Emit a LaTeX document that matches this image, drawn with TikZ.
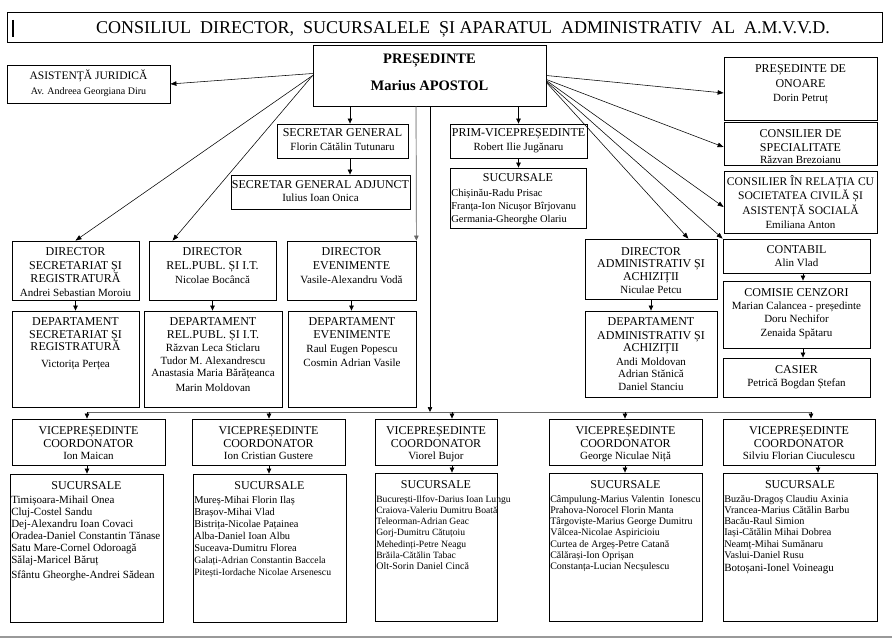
\documentclass[tikz,border=0pt]{standalone}
\usepackage{fontspec}
\setmainfont{Liberation Serif}
\usetikzlibrary{arrows.meta,fit,calc}
\newcommand\hd{\fontsize{12}{13}\selectfont}
\newcommand\nm{\fontsize{11}{13}\selectfont}
\newcommand\st{\rule{0pt}{11pt}}
\newcommand\lt{\rule{0pt}{9pt}}
\definecolor{bus}{gray}{0.4}
\definecolor{rule}{gray}{0.6}
\begin{document}
\begin{tikzpicture}[x=1pt,y=-1pt,
  bx/.style={draw, line width=0.8pt, inner sep=0pt},
  tx/.style={anchor=north, align=center, inner sep=0pt, font=\hd},
  lst/.style={anchor=north west, align=left, inner sep=0pt},
  arr/.style={line width=0.7pt, -{Triangle[length=5pt,width=4.5pt]}},
  diag/.style={line width=0.55pt, -{Triangle[length=6pt,width=4.5pt]}}]
\useasboundingbox (0,0) rectangle (892,639);
\fill[white] (0,0) rectangle (892,639);

% ---------- title ----------
\node[bx, fit={(7,12) (882,42)}] (title) {};
\node[inner sep=0pt, anchor=base, font=\fontsize{18}{20}\selectfont] (title-t) at (463,33.5)
  {CONSILIUL\ \ DIRECTOR,\ \ SUCURSALELE\ \ ȘI APARATUL\ \ ADMINISTRATIV\ \ AL\ \ A.M.V.V.D.};
\draw[line width=1.5pt] (13,20) -- (13,37);

% ---------- boxes ----------
\node[bx, fit={(313,45) (546,106)}] (pres) {};
\node[bx, fit={(7,65) (170,103)}] (asist) {};
\node[bx, fit={(724,57) (877,120)}] (onoare) {};
\node[bx, fit={(277,124) (408,158)}] (sg) {};
\node[bx, fit={(231,175) (410,209)}] (sga) {};
\node[bx, fit={(450,124) (587,158)}] (pvp) {};
\node[bx, fit={(450,168) (586,228)}] (psuc) {};
\node[bx, fit={(724,122) (877,165)}] (cspec) {};
\node[bx, fit={(724,171) (877,233)}] (crel) {};
\node[bx, fit={(12,241) (139,300)}] (dsec) {};
\node[bx, fit={(149,241) (276,300)}] (drel) {};
\node[bx, fit={(287,241) (416,300)}] (dev) {};
\node[bx, fit={(585,239) (717,299)}] (dadm) {};
\node[bx, fit={(723,239) (870,273)}] (contab) {};
\node[bx, fit={(12,311) (139,407)}] (depsec) {};
\node[bx, fit={(144,311) (282,407)}] (deprel) {};
\node[bx, fit={(288,311) (416,407)}] (depev) {};
\node[bx, fit={(585,311) (717,397)}] (depadm) {};
\node[bx, fit={(723,281) (870,348)}] (cenz) {};
\node[bx, fit={(723,358) (870,397)}] (casier) {};
\node[bx, fit={(12,419) (165,465)}] (vp1) {};
\node[bx, fit={(192,419) (345,465)}] (vp2) {};
\node[bx, fit={(375,419) (497,465)}] (vp3) {};
\node[bx, fit={(549,419) (702,465)}] (vp4) {};
\node[bx, fit={(723,419) (875,465)}] (vp5) {};
\node[bx, fit={(10,474) (163,622)}] (s1) {};
\node[bx, fit={(193,474) (346,622)}] (s2) {};
\node[bx, fit={(375,473) (497,621)}] (s3) {};
\node[bx, fit={(549,473) (702,621)}] (s4) {};
\node[bx, fit={(723,473) (877,621)}] (s5) {};

% ---------- texts ----------
\node[tx, font=\fontsize{14.5}{27}\selectfont\bfseries] (pres-t) at ($(pres.north)+(0,7.5)$) {\st PREȘEDINTE\\Marius APOSTOL};
\node[tx, font=\fontsize{11.5}{13}\selectfont] (asist-t) at ($(asist.north)+(0,4)$) {\st ASISTENȚĂ JURIDICĂ\\[2pt]\fontsize{10}{12}\selectfont Av. Andreea Georgiana Diru};
\node[tx] (onoare-t) at ($(onoare.north)+(0,5)$) {\st PREȘEDINTE DE\\[2pt]ONOARE\\[1pt]\nm Dorin Petruț};
\node[tx] (sg-t) at ($(sg.north)+(0,2)$) {\st SECRETAR GENERAL\\[1pt]\nm Florin Cătălin Tutunaru};
\node[tx] (sga-t) at ($(sga.north)+(0,3)$) {\st SECRETAR GENERAL ADJUNCT\\\nm Iulius Ioan Onica};
\node[tx] (pvp-t) at ($(pvp.north)+(0,2)$) {\st PRIM-VICEPREȘEDINTE\\[1pt]\nm Robert Ilie Jugănaru};
\node[tx] (psuc-t) at ($(psuc.north)+(0,3)$) {\st SUCURSALE};
\node[lst, font=\fontsize{10.5}{13}\selectfont] (psuc-l) at ($(psuc.north west)+(1.5,19.5)$) {\lt Chișinău-Radu Prisac\\Franța-Ion Nicușor Bîrjovanu\\Germania-Gheorghe Olariu};
\node[tx] (cspec-t) at ($(cspec.north)+(0,5)$) {\st CONSILIER DE\\[1pt]SPECIALITATE\\[-1pt]\nm Răzvan Brezoianu};
\node[tx, font=\fontsize{11.6}{13}\selectfont] (crel-t) at ($(crel.north)+(0,4)$) {\st CONSILIER ÎN RELAȚIA CU\\[1pt]SOCIETATEA CIVILĂ ȘI\\[2pt]ASISTENȚĂ SOCIALĂ\\[1pt]\nm Emiliana Anton};
\node[tx] (dsec-t) at ($(dsec.north)+(0,4)$) {\st DIRECTOR\\[1pt]SECRETARIAT ȘI\\REGISTRATURĂ\\[1pt]\nm Andrei Sebastian Moroiu};
\node[tx] (drel-t) at ($(drel.north)+(0,4)$) {\st DIRECTOR\\[1pt]REL.PUBL. ȘI I.T.\\[1pt]\nm Nicolae Bocâncă};
\node[tx] (dev-t) at ($(dev.north)+(0,4)$) {\st DIRECTOR\\[1pt]EVENIMENTE\\[1pt]\nm Vasile-Alexandru Vodă};
\node[tx] (dadm-t) at ($(dadm.north)+(0,6)$) {\st DIRECTOR\\[-1pt]ADMINISTRATIV ȘI\\ACHIZIȚII\\\nm Niculae Petcu};
\node[tx] (contab-t) at ($(contab.north)+(0,4)$) {\st CONTABIL\\\nm Alin Vlad};
\node[tx] (depsec-t) at ($(depsec.north)+(0,4)$) {\st DEPARTAMENT\\SECRETARIAT ȘI\\[-1pt]REGISTRATURĂ\\[4pt]\nm Victorița Perțea};
\node[tx] (deprel-t) at ($(deprel.north)+(0,4)$) {\st DEPARTAMENT\\REL.PUBL. ȘI I.T.\\\nm Răzvan Leca Sticlaru\\[-0.5pt]\nm Tudor M. Alexandrescu\\[-0.5pt]\nm Anastasia Maria Bărățeanca\\[2pt]\nm Marin Moldovan};
\node[tx] (depev-t) at ($(depev.north)+(0,4)$) {\st DEPARTAMENT\\EVENIMENTE\\[1pt]\nm Raul Eugen Popescu\\[1pt]\nm Cosmin Adrian Vasile};
\node[tx] (depadm-t) at ($(depadm.north)+(0,4)$) {\st DEPARTAMENT\\[1pt]ADMINISTRATIV ȘI\\[-1pt]ACHIZIȚII\\[1pt]\nm Andi Moldovan\\[-1pt]\nm Adrian Stănică\\\nm Daniel Stanciu};
\node[tx] (cenz-t) at ($(cenz.north)+(0,5)$) {\st COMISIE CENZORI\\\nm Marian Calancea - președinte\\\nm Doru Nechifor\\[1pt]\nm Zenaida Spătaru};
\node[tx] (casier-t) at ($(casier.north)+(0,5)$) {\st CASIER\\\nm Petrică Bogdan Ștefan};

\node[tx] (vp1-t) at ($(vp1.north)+(0,5)$) {\st VICEPREȘEDINTE\\COORDONATOR\\[-1pt]\nm Ion Maican};
\node[tx] (vp2-t) at ($(vp2.north)+(0,5)$) {\st VICEPREȘEDINTE\\COORDONATOR\\[-1pt]\nm Ion Cristian Gustere};
\node[tx] (vp3-t) at ($(vp3.north)+(0,5)$) {\st VICEPREȘEDINTE\\COORDONATOR\\[-1pt]\nm Viorel Bujor};
\node[tx] (vp4-t) at ($(vp4.north)+(0,5)$) {\st VICEPREȘEDINTE\\COORDONATOR\\[-1pt]\nm George Niculae Niță};
\node[tx] (vp5-t) at ($(vp5.north)+(0,5)$) {\st VICEPREȘEDINTE\\COORDONATOR\\[-1pt]\nm Silviu Florian Ciuculescu};

\node[tx] (s1-t) at ($(s1.north)+(0,5)$) {\st SUCURSALE};
\node[tx] (s2-t) at ($(s2.north)+(0,5)$) {\st SUCURSALE};
\node[tx] (s3-t) at ($(s3.north)+(0,5)$) {\st SUCURSALE};
\node[tx] (s4-t) at ($(s4.north)+(0,5)$) {\st SUCURSALE};
\node[tx] (s5-t) at ($(s5.north)+(0,5)$) {\st SUCURSALE};
\node[lst, font=\fontsize{11}{12}\selectfont] (s1-l) at ($(s1.north west)+(1.5,20.5)$) {\lt Timișoara-Mihail Onea\\Cluj-Costel Sandu\\Dej-Alexandru Ioan Covaci\\Oradea-Daniel Constantin Tănase\\Satu Mare-Cornel Odoroagă\\Sălaj-Maricel Băruț\\[3pt]Sfântu Gheorghe-Andrei Sădean};
\node[lst, font=\fontsize{10.4}{12}\selectfont] (s2-l) at ($(s2.north west)+(1.5,20.5)$) {\lt Mureș-Mihai Florin Ilaș\\Brașov-Mihai Vlad\\Bistrița-Nicolae Pațainea\\Alba-Daniel Ioan Albu\\Suceava-Dumitru Florea\\\fontsize{9.7}{12}\selectfont Galați-Adrian Constantin Baccela\\\fontsize{9.7}{12}\selectfont Pitești-Iordache Nicolae Arsenescu};
\node[lst, font=\fontsize{9.6}{11.2}\selectfont] (s3-l) at ($(s3.north west)+(1.5,20.5)$) {\lt București-Ilfov-Darius Ioan Lungu\\Craiova-Valeriu Dumitru Boată\\Teleorman-Adrian Geac\\Gorj-Dumitru Cătuțoiu\\Mehedinți-Petre Neagu\\Brăila-Cătălin Tabac\\\fontsize{10}{11.2}\selectfont Olt-Sorin Daniel Cincă};
\node[lst, font=\fontsize{10}{11.2}\selectfont] (s4-l) at ($(s4.north west)+(1.5,20.5)$) {\lt Câmpulung-Marius Valentin\ \ Ionescu\\Prahova-Norocel Florin Manta\\Târgoviște-Marius George Dumitru\\Vâlcea-Nicolae Aspiricioiu\\Curtea de Argeș-Petre Catană\\Călărași-Ion Oprișan\\Constanța-Lucian Necșulescu};
\node[lst, font=\fontsize{10.2}{11.2}\selectfont] (s5-l) at ($(s5.north west)+(1.5,20.5)$) {\lt Buzău-Dragoș Claudiu Axinia\\Vrancea-Marius Cătălin Barbu\\Bacău-Raul Simion\\Iași-Cătălin Mihai Dobrea\\Neamț-Mihai Sumănaru\\Vaslui-Daniel Rusu\\[2pt]\fontsize{11}{11.2}\selectfont Botoșani-Ionel Voineagu};

% ---------- helper coordinates ----------
\coordinate (xsg) at (350,0);
\coordinate (xev) at (416,0);
\coordinate (bm) at (430,412);
\coordinate (b1) at (87,412);
\coordinate (b2) at (269,412);
\coordinate (b3) at (452,412);
\coordinate (b4) at (625,412);
\coordinate (b5) at (811,412);
\coordinate (v5) at (818,0);
\coordinate (xcz) at (803,0);

% ---------- connectors ----------
\draw[diag] ([yshift=2pt]pres.west) -- (asist.east);
\draw[diag] (pres.west) -- (dsec.north);
\draw[diag] (pres.west) -- ([xshift=24pt]drel.north west);
\draw[diag] (pres.east) -- ([yshift=-4.5pt]onoare.west);
\draw[diag] ([yshift=-4pt]pres.east) -- ([yshift=-3.5pt]cspec.west);
\draw[diag] ([yshift=-5pt]pres.east) -- ([yshift=-5pt]crel.west);
\draw[diag] ([yshift=-6pt]pres.east) -- (contab.north west);
\draw[diag] ([yshift=-7pt]pres.east) -- ([xshift=-29pt]dadm.north east);

\draw[arr] (xsg |- pres.south) -- (xsg |- sg.north);
\draw[arr] (xsg |- sg.south) -- (xsg |- sga.north);
\draw[arr] (pvp.north |- pres.south) -- (pvp.north);
\draw[arr] (pvp.south) -- (pvp.south |- psuc.north);
\draw[arr, draw=bus, fill=bus] (xev |- pres.south) -- (dev.north east);
\draw[arr] (bm |- pres.south) -- (bm);
\draw[line width=1pt, draw=bus] (b1) -- (b5);

\draw[arr] (b1) -- (b1 |- vp1.north);
\draw[arr] (b2) -- (b2 |- vp2.north);
\draw[arr] (b3) -- (b3 |- vp3.north);
\draw[arr] (b4) -- (b4 |- vp4.north);
\draw[arr] (b5) -- (b5 |- vp5.north);

\draw[arr] (b1 |- vp1.south) -- (b1 |- s1.north);
\draw[arr] (b2 |- vp2.south) -- (b2 |- s2.north);
\draw[arr] (b3 |- vp3.south) -- (b3 |- s3.north);
\draw[arr] (b4 |- vp4.south) -- (b4 |- s4.north);
\draw[arr] (v5 |- vp5.south) -- (v5 |- s5.north);

\draw[arr] (dsec.south) -- (depsec.north);
\draw[arr] (drel.south) -- (drel.south |- deprel.north);
\draw[arr] (dev.south) -- (dev.south |- depev.north);
\draw[arr] (dadm.south) -- (depadm.north);
\draw[arr] (xcz |- contab.south) -- (xcz |- cenz.north);
\draw[arr] (xcz |- cenz.south) -- (xcz |- casier.north);

% bottom rule
\draw[line width=2pt, draw=rule] (0,637) -- (892,637);
\end{tikzpicture}
\end{document}
